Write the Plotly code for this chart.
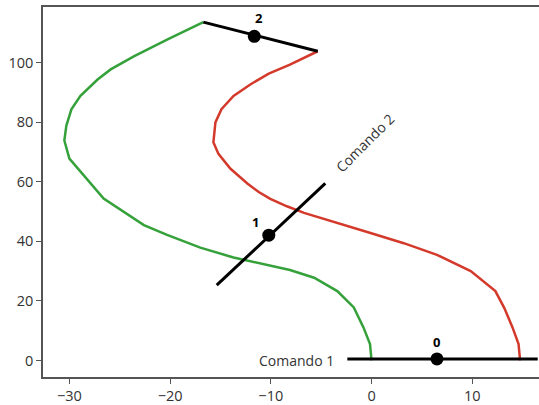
import plotly.graph_objects as go

# Trajectories
green_x = [0.0, -0.05, -0.15, -0.8, -1.76, -3.4, -5.7, -8.1, -10.05, -13.7, -17.0, -20.3,
           -22.6, -24.6, -26.6, -30.0, -30.5, -30.3, -29.8, -28.9, -27.2, -25.9, -23.6, -20.3, -16.7]
green_y = [0.0, 2.5, 5.5, 11.1, 17.8, 23.3, 27.8, 30.4, 31.8, 34.6, 37.9, 42.2,
           45.5, 50.0, 54.4, 67.8, 73.9, 78.9, 84.4, 88.9, 94.4, 97.8, 102.2, 107.8, 113.7]

red_x = [14.75, 14.7, 14.6, 14.0, 13.2, 12.3, 9.85, 6.5, 3.2, -0.1, -3.4, -6.7, -8.4, -10.05,
         -11.2, -12.3, -14.0, -15.2, -15.7, -15.5, -14.9, -13.7, -12.0, -10.2, -8.1, -5.34]
red_y = [0.0, 2.5, 5.5, 11.1, 17.5, 23.3, 30.0, 35.5, 39.4, 42.8, 46.1, 49.6, 51.8, 54.3,
         56.6, 59.4, 64.4, 69.4, 73.3, 80.0, 84.4, 88.9, 92.8, 96.4, 99.4, 103.9]

# Command segments
seg_x = [[-2.4, 16.5], [-15.37, -4.59], [-16.7, -5.34]]
seg_y = [[0.5, 0.5], [25.3, 59.5], [113.7, 103.9]]
dot_x = [6.5, -10.2, -11.64]
dot_y = [0.5, 42.1, 108.9]
dot_labels = ["0", "1", "2"]

cmd_labels = ["Comando 1", "Comando 2"]
cmd_x = [-3.5, -0.65]
cmd_y = [0.0, 73.3]

fig = go.Figure()
fig.add_trace(go.Scatter(x=green_x, y=green_y, mode="lines",
                         line=dict(color="#35a13a", width=2.5), showlegend=False))
fig.add_trace(go.Scatter(x=red_x, y=red_y, mode="lines",
                         line=dict(color="#d43a2c", width=2.5), showlegend=False))
for sx, sy in zip(seg_x, seg_y):
    fig.add_trace(go.Scatter(x=sx, y=sy, mode="lines",
                             line=dict(color="black", width=3), showlegend=False))
fig.add_trace(go.Scatter(x=dot_x, y=dot_y, mode="markers",
                         marker=dict(color="black", size=13), showlegend=False))

shifts = [(0, 17), (-13, 13), (5, 18)]
for lx, ly, t, (xs, ys) in zip(dot_x, dot_y, dot_labels, shifts):
    fig.add_annotation(x=lx, y=ly, text="<b>%s</b>" % t, showarrow=False,
                       xshift=xs, yshift=ys, font=dict(size=13, color="black",
                                                        family="Open Sans"))

fig.add_annotation(x=cmd_x[0], y=cmd_y[0], text=cmd_labels[0], showarrow=False,
                   xanchor="right", yanchor="middle",
                   font=dict(size=14, color="#333333", family="Open Sans"))
fig.add_annotation(x=cmd_x[1], y=cmd_y[1], text=cmd_labels[1], showarrow=False,
                   textangle=-45, xanchor="center", yanchor="middle",
                   font=dict(size=14, color="#333333", family="Open Sans"))

axis_common = dict(showgrid=False, zeroline=False, showline=True, linecolor="#555555",
                   linewidth=1.5, ticks="outside", ticklen=5, tickcolor="#555555",
                   tickwidth=1.2, tickfont=dict(size=14.5, color="#333333", family="Open Sans"))

fig.update_layout(
    width=539, height=405,
    margin=dict(l=43, r=0, t=7, b=25),
    plot_bgcolor="white", paper_bgcolor="white",
    xaxis=dict(range=[-32.62, 16.63], tickvals=[-30, -20, -10, 0, 10],
               ticktext=["\u221230", "\u221220", "\u221210", "0", "10"],
               mirror=True, **axis_common),
    yaxis=dict(range=[-5.57, 118.77], tickvals=[0, 20, 40, 60, 80, 100],
               **axis_common),
)

fig.write_html("out.html")
